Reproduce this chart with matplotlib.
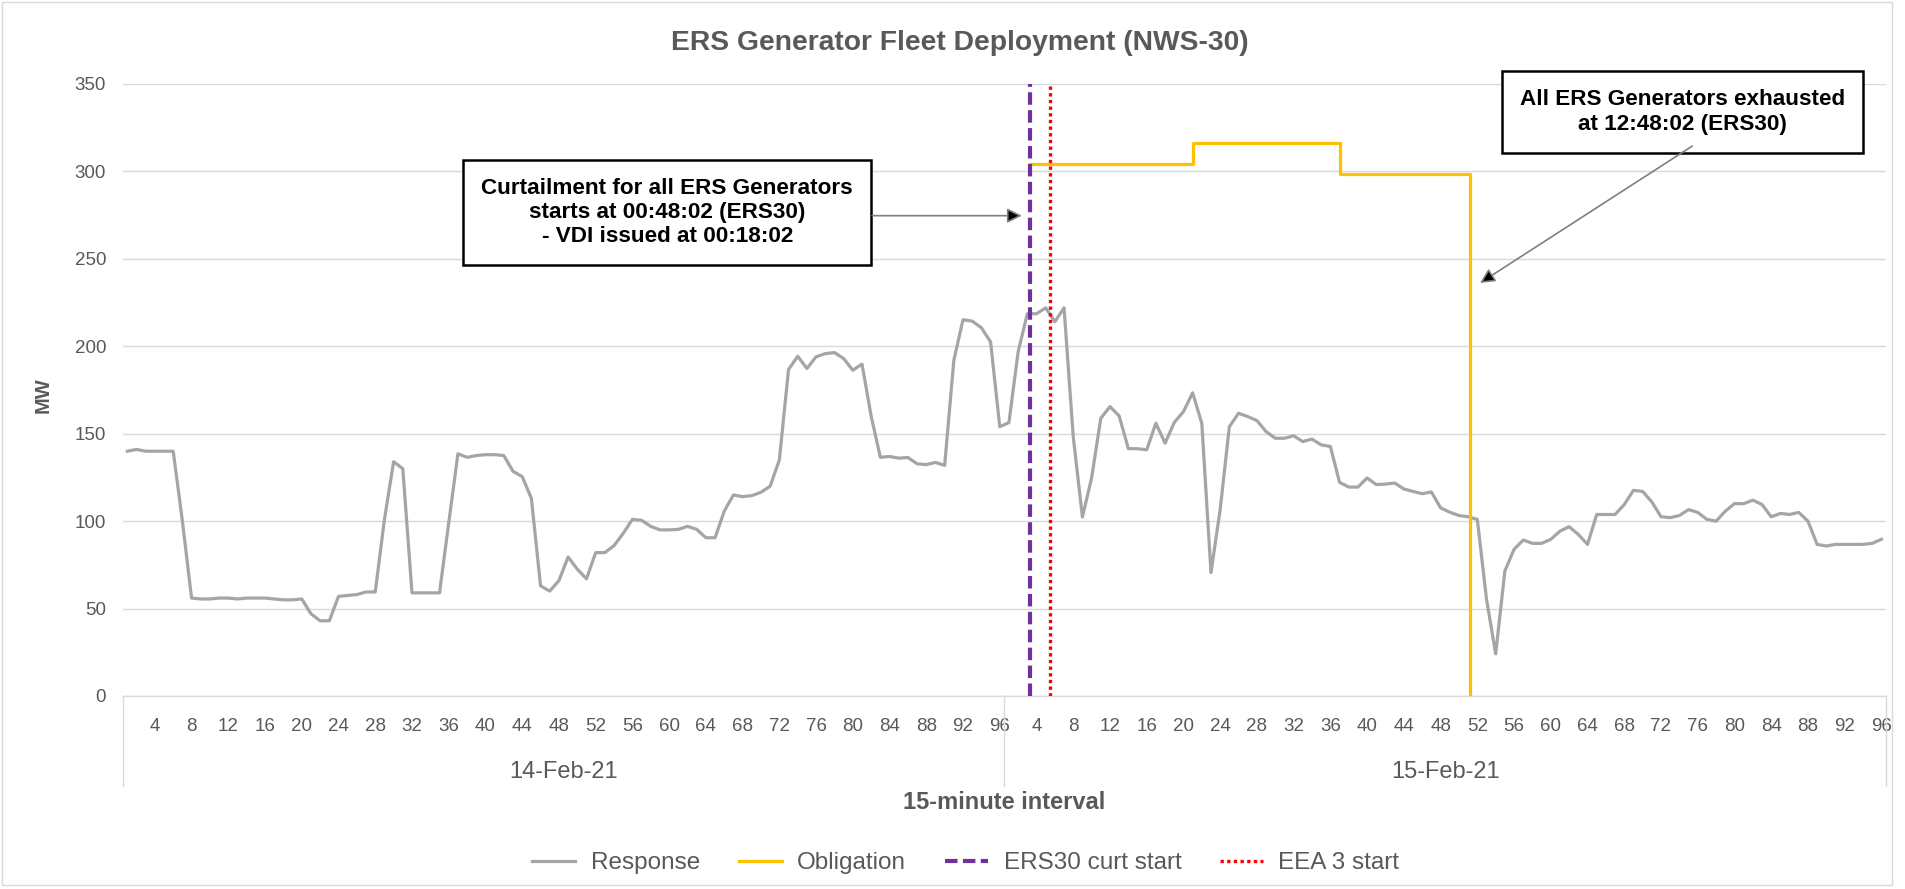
import numpy as np
import matplotlib.pyplot as plt
from matplotlib.patches import Rectangle
import matplotlib.transforms as mtransforms

plt.rcParams['font.family'] = ['Liberation Sans', 'DejaVu Sans']

days = ["14-Feb-21", "15-Feb-21"]
intervals_per_day = 96
tick_step = 4

# response MW per 15-minute interval, 14-Feb then 15-Feb
response_day1 = [
    140, 141, 140, 140, 140, 140, 100, 56, 55.5, 55.5,
    56, 56, 55.5, 56, 56, 56, 55.5, 55, 55, 55.5,
    47, 43, 43, 57, 57.5, 58, 59.5, 59.5, 101, 134,
    130, 59, 59, 59, 59, 99, 138.5, 136.5, 137.5, 138,
    138, 137.5, 128.5, 125.5, 113, 63, 60, 66, 79.5, 72.5,
    67, 82, 82, 86, 93, 101, 100.5, 97, 95, 95,
    95.3, 97, 95.3, 90.5, 90.5, 105.7, 115, 114, 114.6, 116.5,
    120, 135, 186.7, 194.3, 187.3, 194, 195.8, 196.4, 193, 186.3,
    189.8, 160, 136.5, 137, 136, 136.4, 132.8, 132.3, 133.6, 131.9,
    192, 215.2, 214.4, 210.6, 202.5, 154,
]
response_day2 = [
    156.4, 196.8, 218.6, 218.6, 222, 214, 222, 148.4, 102.3, 124.7,
    158.8, 165.5, 160.2, 141.5, 141.4, 140.8, 156, 144.6, 156.4, 162.6,
    173.4, 156, 70.6, 106.6, 154, 161.7, 159.8, 157.5, 151.2, 147.4,
    147.4, 148.8, 145.5, 146.9, 143.6, 142.7, 122.2, 119.5, 119.5, 124.7,
    120.9, 121.2, 121.8, 118.4, 117, 115.7, 116.7, 107.6, 105.1, 103.2,
    102.5, 101, 55.4, 24.1, 71.5, 83.9, 89.2, 87.3, 87.3, 89.6,
    94.3, 96.8, 92.4, 86.7, 103.8, 103.8, 103.8, 109.5, 117.6, 117,
    111, 102.5, 102, 103.2, 106.6, 105, 101, 100, 105.7, 110,
    110, 112, 109.5, 102.5, 104.4, 103.8, 105, 100, 86.7, 85.8,
    86.7, 86.7, 86.7, 86.7, 87.3, 89.6,
]

# obligation steps (interval position of each change) and MW levels
obligation_edges = [99.3, 117.0, 133.05, 147.25]
obligation_mw = [304, 316.5, 298.5]

ers30_curt_start = 99.3
eea3_start = 101.45

response = np.array(response_day1 + response_day2)
x = np.arange(1, len(response) + 1)
n_total = len(response)

gray = "#A5A5A5"
yellow = "#FFC000"
purple = "#7030A0"
red = "#FF0000"
text_gray = "#595959"
grid_gray = "#D9D9D9"

fig = plt.figure(figsize=(19.05, 8.89), dpi=100)
ax = fig.add_axes([122.7 / 1905, 1 - 696 / 889, 1763.3 / 1905, 612 / 889])

ax.plot(x, response, color=gray, lw=2.3, label="Response", zorder=3)

ob_x = np.repeat(obligation_edges, 2)[1:]
ob_y = np.append(np.repeat(obligation_mw, 2), 0)
ax.plot(ob_x, ob_y, color=yellow, lw=2.3, label="Obligation", zorder=4)

ax.axvline(ers30_curt_start, color=purple, lw=3, linestyle=(0, (3, 1.3)),
           label="ERS30 curt start", zorder=5)
ax.axvline(eea3_start, color=red, lw=2.4, linestyle=(0, (1, 1.0)),
           label="EEA 3 start", zorder=6)

ax.set_xlim(0.5, n_total + 0.5)
ax.set_ylim(0, 350)
ax.set_yticks(np.arange(0, 351, 50))
ax.grid(axis="y", color=grid_gray, lw=1)
ax.set_axisbelow(True)
for s in ["top", "right", "left"]:
    ax.spines[s].set_visible(False)
ax.spines["bottom"].set_color(grid_gray)
ax.spines["bottom"].set_linewidth(1)

ticks = []
labels = []
for d in range(len(days)):
    for k in range(tick_step, intervals_per_day + 1, tick_step):
        ticks.append(d * intervals_per_day + k)
        labels.append(str(k))
ax.set_xticks(ticks)
ax.set_xticklabels(labels)
ax.tick_params(axis="x", length=0, pad=16, labelsize=13.5, labelcolor=text_gray)
ax.tick_params(axis="y", length=0, pad=12, labelsize=13.5, labelcolor=text_gray)

# day separators and labels below the axis
trans = mtransforms.blended_transform_factory(ax.transData, ax.transAxes)
for d in range(len(days) + 1):
    xb = d * intervals_per_day + 0.5
    ax.plot([xb, xb], [0, -0.147], color=grid_gray, lw=1, transform=trans, clip_on=False)
for d, name in enumerate(days):
    ax.text(d * intervals_per_day + intervals_per_day / 2 + 0.5, -0.124, name,
            transform=trans, ha="center", va="center", fontsize=17, color=text_gray)
ax.text(n_total / 2 + 0.5, -0.174, "15-minute interval", transform=trans,
        ha="center", va="center", fontsize=17, fontweight="bold", color=text_gray)

fig.text(43 / 1905, 1 - 395 / 889, "MW", rotation=90, ha="center", va="center",
         fontsize=14.5, fontweight="bold", color=text_gray)
fig.text(960 / 1905, 1 - 43 / 889, "ERS Generator Fleet Deployment (NWS-30)",
         ha="center", va="center", fontsize=20.3, fontweight="bold", color=text_gray)

box = dict(boxstyle="square,pad=0.8", fc="white", ec="black", lw=1.8)
ax.text(59.8, 276.5, "Curtailment for all ERS Generators\nstarts at 00:48:02 (ERS30)\n- VDI issued at 00:18:02",
        ha="center", va="center", fontsize=16.2, fontweight="bold", color="black",
        linespacing=1.2, bbox=box, zorder=7)
ax.annotate("", xy=(98.4, 274.7), xytext=(82.1, 274.7),
            arrowprops=dict(arrowstyle="-|>", color="#7F7F7F", fc="black", lw=1.2,
                            mutation_scale=22, shrinkA=0, shrinkB=0), zorder=7)

ax.text(170.3, 334, "All ERS Generators exhausted\nat 12:48:02 (ERS30)",
        ha="center", va="center", fontsize=16.2, fontweight="bold", color="black",
        linespacing=1.2, bbox=box, zorder=7, clip_on=False)
ax.annotate("", xy=(148.3, 236.2), xytext=(171.4, 314.5),
            arrowprops=dict(arrowstyle="-|>", color="#7F7F7F", fc="black", lw=1.2,
                            mutation_scale=22, shrinkA=0, shrinkB=0), zorder=7)

leg = fig.legend(loc="center", bbox_to_anchor=(966 / 1905, 1 - 863 / 889), ncol=4,
                 frameon=False, fontsize=17.5, handlelength=1.75, handletextpad=0.65,
                 columnspacing=1.6)
for t in leg.get_texts():
    t.set_color(text_gray)

fig.patches.append(Rectangle((0.001, 0.004), 1892 / 1905 - 0.001, 0.994,
                             transform=fig.transFigure, fill=False,
                             ec=grid_gray, lw=1))

fig.savefig("out.png", dpi=100)
